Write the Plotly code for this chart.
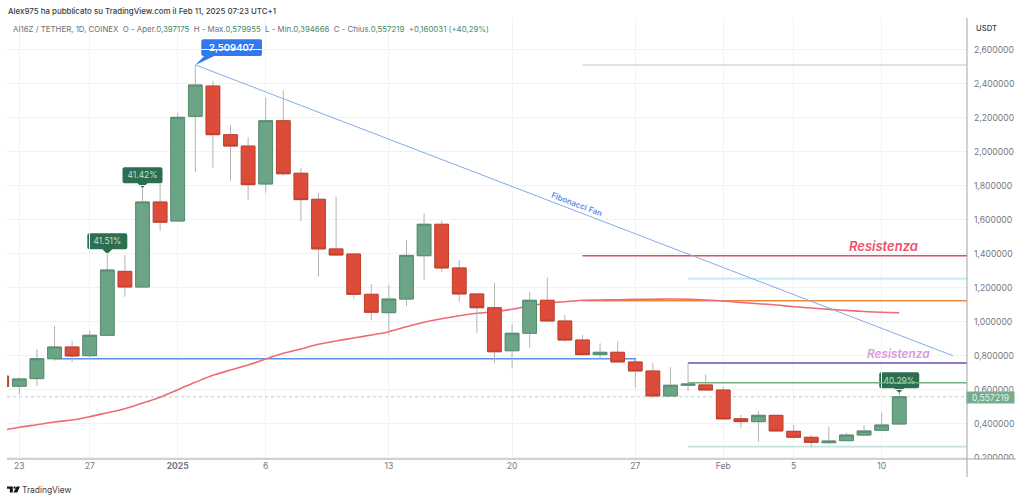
import pandas as pd
import plotly.graph_objects as go

# ---------- data ----------
first_day = "2024-12-22"
open_ = [.679,.619,.664,.781,.850,.799,.919,1.295,1.203,1.703,1.591,2.207,2.385,2.099,2.032,1.809,2.181,1.872,1.719,1.427,
         1.397,1.160,1.052,1.132,1.387,1.572,1.315,1.162,1.081,.828,.931,1.125,1.003,.891,.805,.819,.762,.709,.562,.625,
         .627,.597,.428,.411,.448,.354,.319,.287,.299,.332,.360,.397175]
high = [.690,.672,.837,.974,.887,.944,1.397,1.391,1.785,1.815,2.227,2.509407,2.415,2.156,2.084,2.317,2.358,1.901,1.758,1.734,
        1.397,1.219,1.215,1.479,1.637,1.593,1.362,1.162,1.228,.985,1.175,1.258,1.038,.921,.872,.881,.779,.754,.731,.756,
        .689,.617,.450,.474,.448,.391,.332,.381,.346,.389,.464,.579955]
low = [.610,.569,.622,.768,.762,.778,.915,1.146,1.200,1.534,1.590,1.878,1.905,1.827,1.715,1.758,1.858,1.591,1.264,1.391,
       1.137,1.009,.921,1.091,1.244,1.293,1.117,.934,.754,.725,.846,1.003,.881,.803,.778,.762,.611,.546,.559,.591,
       .594,.421,.375,.293,.353,.309,.260,.279,.297,.329,.356,.394666]
close = [.618,.662,.781,.850,.797,.919,1.303,1.203,1.703,1.584,2.201,2.391,2.099,2.032,1.805,2.181,1.869,1.717,1.427,1.391,
         1.160,1.054,1.132,1.389,1.572,1.315,1.162,1.081,.822,.931,1.125,1.003,.891,.805,.819,.762,.709,.562,.625,.632,
         .597,.427,.411,.448,.356,.319,.289,.297,.332,.356,.391,.557219]
moving_avg = [.3588,.3777,.393,.4088,.4206,.44,.4636,.4871,.5206,.5541,.5988,.6424,.6836,.7147,.7441,.7794,.813,.8383,.8659,.8853,
              .903,.9206,.94,.9694,.9953,1.0165,1.0341,1.0483,1.0577,1.0718,1.0912,1.1071,1.1165,1.1247,1.1265,1.1282,1.13,1.1312,1.1324,1.1306,
              1.1265,1.1206,1.1118,1.1047,1.0971,1.0871,1.0794,1.0712,1.0653,1.0588,1.0541,1.0518]

level_values = [2.5094, 1.3871, 1.2518, 1.1224, .7559, .2636]
level_starts = ["2025-01-24", "2025-01-24", "2025-01-30", "2025-01-24", "2025-01-30", "2025-01-30"]
level_colors = ["#e2e2e2", "#d9525f", "#bce9f5", "#f0873c", "#8a7cc8", "#c4e3df"]
level_widths = [2, 1.6, 1.8, 1.6, 2, 1.8]
green_level = .64
green_level_start = "2025-01-30"

support_dates = ["2024-12-25", "2025-01-27", "2025-01-27"]
support_values = [.7812, .7812, .765]
fan_dates = ["2025-01-02", "2025-02-14T01:12:00"]
fan_values = [2.509407, .7988]

price_ticks = [2.6, 2.4, 2.2, 2.0, 1.8, 1.6, 1.4, 1.2, 1.0, .8, .6, .4, .2]
price_labels = ["2,600000", "2,400000", "2,200000", "2,000000", "1,800000", "1,600000", "1,400000",
                "1,200000", "1,000000", "0,800000", "0,600000", "0,400000", "0,200000"]
date_ticks = ["2024-12-23", "2024-12-27", "2025-01-01", "2025-01-06", "2025-01-13", "2025-01-20", "2025-01-27",
              "2025-02-01", "2025-02-05", "2025-02-10"]
date_labels = ["23", "27", "<b>2025</b>", "6", "13", "20", "27", "Feb", "5", "10"]

gain_dates = ["2024-12-28", "2024-12-30", "2025-02-11"]
gain_anchor = [1.3971, 1.7853, .579955]
gain_text_y = [1.469, 1.859, .643]
gain_labels = ["41.51%", "41.42%", "40.29%"]

# ---------- geometry of the page ----------
W, H = 1024, 501
L, R, T, B = 7, 967, 18, 459
X_RANGE = ["2024-12-22T07:12:00", "2025-02-14T20:24:00"]
Y_RANGE = [0.1912, 2.7853]
FONT = "Inter, 'Noto Sans', sans-serif"
GREEN, GREEN_EDGE = "#6ba585", "#568d70"
RED, RED_EDGE = "#dc4c38", "#c2412f"
WICK = "#b4b4b4"
TAG = "#2b6f50"


def px(x):
    return (x - L) / (R - L)


def py(y):
    return (B - y) / (B - T)


dates = pd.date_range(first_day, periods=len(close), freq="D")
fig = go.Figure()

# drawings behind the candles
for v, s, c, w in zip(level_values, level_starts, level_colors, level_widths):
    fig.add_trace(go.Scatter(x=[s, X_RANGE[1]], y=[v, v], mode="lines", line=dict(color=c, width=w), hoverinfo="skip"))
fig.add_trace(go.Scatter(x=list(X_RANGE), y=[close[-1], close[-1]], mode="lines",
                         line=dict(color="#c9c9c9", width=1, dash="dot"), hoverinfo="skip"))
fig.add_trace(go.Scatter(x=support_dates, y=support_values, mode="lines",
                         line=dict(color="#5b8ff0", width=1.6), hoverinfo="skip"))
fig.add_trace(go.Scatter(x=dates, y=moving_avg, mode="lines", line=dict(color="#ef6a72", width=1.6, shape="spline"),
                         hoverinfo="skip"))
fig.add_trace(go.Scatter(x=fan_dates, y=fan_values, mode="lines", line=dict(color="#86a9ee", width=1), hoverinfo="skip"))

# gain texts first, then the green level so that it runs across the last tag
fig.add_trace(go.Scatter(x=gain_dates, y=gain_text_y, mode="text", text=gain_labels,
                         textfont=dict(family=FONT, size=8.4, color="#c2e0cf"), hoverinfo="skip"))
fig.add_trace(go.Scatter(x=[green_level_start, X_RANGE[1]], y=[green_level, green_level], mode="lines",
                         line=dict(color="#74b07c", width=1.6), hoverinfo="skip"))

# wicks
fig.add_trace(go.Candlestick(x=dates, open=open_, high=high, low=low, close=close, whiskerwidth=0,
                             xaxis="x2", yaxis="y2",
                             increasing=dict(line=dict(color=WICK, width=1), fillcolor=GREEN),
                             decreasing=dict(line=dict(color=WICK, width=1), fillcolor=RED)))
# bodies
body_top = [max(o, c) for o, c in zip(open_, close)]
body_bot = [min(o, c) for o, c in zip(open_, close)]
fig.add_trace(go.Candlestick(x=dates, open=open_, high=body_top, low=body_bot, close=close, whiskerwidth=0,
                             xaxis="x2", yaxis="y2",
                             increasing=dict(line=dict(color=GREEN_EDGE, width=1), fillcolor=GREEN),
                             decreasing=dict(line=dict(color=RED_EDGE, width=1), fillcolor=RED)))


def callout(x, y, x0, x1, y0, y1, t0, t1, color):
    r = 2
    path = (f"M {x0+r} {y0} L {t0} {y0} L 0 0 L {t1} {y0} L {x1-r} {y0} Q {x1} {y0} {x1} {y0+r} "
            f"L {x1} {y1-r} Q {x1} {y1} {x1-r} {y1} L {x0+r} {y1} Q {x0} {y1} {x0} {y1-r} "
            f"L {x0} {y0+r} Q {x0} {y0} {x0+r} {y0} Z")
    return dict(type="path", path=path, xref="x", yref="y", xsizemode="pixel", ysizemode="pixel",
                xanchor=x, yanchor=y, fillcolor=color, line=dict(width=0), layer="below")


shapes = []
for d, a in zip(gain_dates, gain_anchor):
    shapes.append(callout(d, a, -20, 20, 4.7, 20.7, -5, 5, TAG))
shapes.append(callout("2025-01-02", 2.509407, 6, 66.7, 9, 25.7, 9, 19, "#3278f0"))

# frame lines outside the plot
shapes += [
    dict(type="rect", xref="paper", yref="paper", x0=px(R + 1), x1=px(1020), y0=py(B), y1=py(466),
         fillcolor="white", line=dict(width=0), layer="above"),
    dict(type="line", xref="paper", yref="paper", x0=px(L), x1=px(1016), y0=py(B), y1=py(B),
         line=dict(color="#a3a3a3", width=1), layer="above"),
    dict(type="line", xref="paper", yref="paper", x0=px(R), x1=px(R), y0=py(T), y1=py(477),
         line=dict(color="#a3a3a3", width=1), layer="above"),
    # logo
    dict(type="path", xref="paper", yref="paper", fillcolor="#131722", line=dict(width=0),
         path=f"M {px(7)} {py(486.5)} L {px(12.8)} {py(486.5)} L {px(12.8)} {py(492.4)} L {px(9.8)} {py(492.4)} "
              f"L {px(9.8)} {py(488.8)} L {px(7)} {py(488.8)} Z"),
    dict(type="path", xref="paper", yref="paper", fillcolor="#131722", line=dict(width=0),
         path=f"M {px(16.6)} {py(486.5)} L {px(20)} {py(486.5)} L {px(17.2)} {py(492.4)} L {px(13.4)} {py(492.4)} Z"),
    dict(type="circle", xref="paper", yref="paper", fillcolor="#131722", line=dict(width=0),
         x0=px(13.4), x1=px(15.8), y0=py(488.8), y1=py(486.4)),
]


def note(x, y, text, size, color, anchor="left", weight=None, italic=False):
    label = f"<i>{text}</i>" if italic else text
    return dict(xref="paper", yref="paper", x=px(x), y=py(y), text=label, showarrow=False, xanchor=anchor,
                yanchor="middle", font=dict(family=FONT, size=size, color=color, weight=weight), borderpad=0)


VAL = "#3f8a68"
GR = "#6b6e78"
ohlc = (f"<span style='color:{GR}'>AI16Z / TETHER, 1D, COINEX&nbsp;&nbsp;O - Aper.</span><span style='color:{VAL}'>0,397175</span>"
        f"<span style='color:{GR}'>&nbsp;&nbsp;H - Max.</span><span style='color:{VAL}'>0,579955</span>"
        f"<span style='color:{GR}'>&nbsp;&nbsp;L - Min.</span><span style='color:{VAL}'>0,394666</span>"
        f"<span style='color:{GR}'>&nbsp;&nbsp;C - Chius.</span><span style='color:{VAL}'>0,557219</span>"
        f"<span style='color:{VAL}'>&nbsp;&nbsp;+0,160031 (+40,29%)</span>")
annotations = [
    note(7, 10.5, "Alex975 ha pubblicato su TradingView.com il Feb 11, 2025 07:23 UTC+1", 7.9, "#3a3d45", weight=500),
    note(12, 28.5, ohlc, 7.85, GR),
    note(986, 29, "USDT", 7.7, "#3a3d45", anchor="center", weight=500),
    note(21, 490, "TradingView", 8.4, "#3a3d45"),
    note(883, 246, "Resistenza", 13, "#f0506a", anchor="center", weight=600, italic=True),
    note(898, 353.7, "Resistenza", 11.8, "#d79bdc", anchor="center", weight=600, italic=True),
    dict(x=(pd.Timestamp("2025-01-23") + pd.Timedelta(hours=16)).isoformat(), y=1.691, xref="x", yref="y",
         text="Fibonacci Fan", showarrow=False, textangle=21, xanchor="center", yanchor="middle",
         font=dict(family=FONT, size=8, color="#5b8ff0", weight=600)),
    dict(x="2025-01-02", y=2.509407, xref="x", yref="y", xshift=36.3, yshift=17.4, text="2,509407", showarrow=False,
         xanchor="center", yanchor="middle", font=dict(family=FONT, size=9.5, color="white", weight=600)),
    dict(xref="paper", yref="paper", x=px(990.5), y=py(397.3), text="0,557219", showarrow=False, width=47, height=11,
         xanchor="center", yanchor="middle", bgcolor="#74ad90", font=dict(family=FONT, size=8.6, color="#e3f2ea"),
         borderpad=0),
]

fig.update_layout(
    width=W, height=H, margin=dict(l=L, r=W - R, t=T, b=H - B, autoexpand=False),
    paper_bgcolor="white", plot_bgcolor="white", showlegend=False,
    boxmode="overlay", boxgap=0.22, boxgroupgap=0,
    shapes=shapes, annotations=annotations, dragmode=False,
    xaxis=dict(type="date", range=X_RANGE, tickmode="array", tickvals=date_ticks, ticktext=date_labels, showgrid=True,
               gridcolor="#f0f2f6", gridwidth=1, zeroline=False, showline=False, ticks="", rangeslider=dict(visible=False),
               tickfont=dict(family=FONT, size=8.6, color="#74777f")),
    yaxis=dict(range=Y_RANGE, side="right", tickmode="array", tickvals=price_ticks, ticktext=price_labels, showgrid=True,
               gridcolor="#f0f2f6", gridwidth=1, zeroline=False, showline=False, ticks="", ticklabelstandoff=6,
               tickfont=dict(family=FONT, size=8.6, color="#74777f")),
    xaxis2=dict(type="date", range=X_RANGE, overlaying="x", visible=False, rangeslider=dict(visible=False)),
    yaxis2=dict(range=Y_RANGE, overlaying="y", visible=False),
)
fig.write_html("out.html", config=dict(displayModeBar=False), post_script="document.body.style.margin='0';")
